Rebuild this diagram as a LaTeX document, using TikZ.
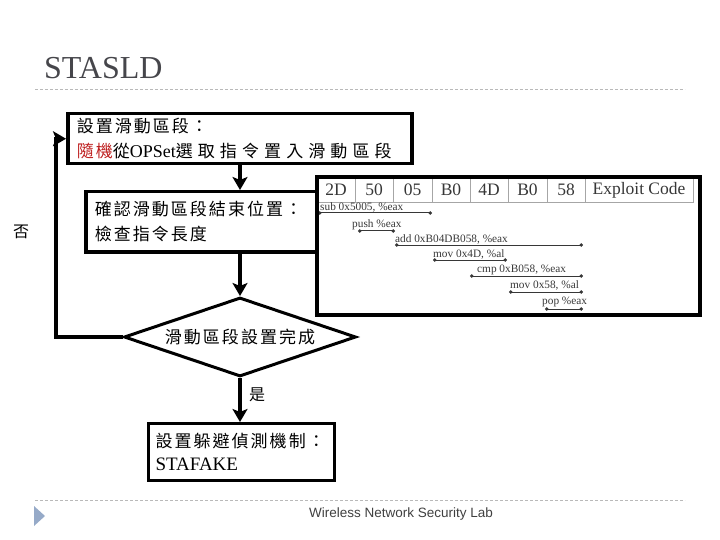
\documentclass[tikz,border=0pt]{standalone}
\usepackage{fontspec}
\setmainfont{Liberation Serif}
\newfontfamily\cjk[LetterSpace=12]{Noto Sans CJK TC}
\newfontfamily\cjkwide[LetterSpace=30]{Noto Sans CJK TC}
\newfontfamily\cjkplain{Noto Sans CJK TC}
\newfontfamily\footsans{Liberation Sans}
\usetikzlibrary{arrows.meta,shapes.geometric}
\definecolor{titlegray}{RGB}{70,70,75}
\definecolor{sepgray}{RGB}{185,185,185}
\definecolor{trigray}{RGB}{150,170,200}
\definecolor{scan}{RGB}{55,55,55}
\definecolor{redtxt}{RGB}{190,30,30}
\begin{document}
\begin{tikzpicture}[x=1pt,y=-1pt,
  conn/.style={line width=3.5pt,-{Stealth[length=13pt,width=15pt,inset=3pt]}},
  flowbox/.style={draw,rectangle,anchor=north west,align=left,inner ysep=0pt,inner xsep=9pt},
  sepline/.style={draw=sepgray,line width=1pt,dash pattern=on 3pt off 2pt},
  hex/.style={text=scan,font=\fontsize{17.5}{17.5}\selectfont,inner sep=0pt},
  tabline/.style={draw=gray!70,line width=0.8pt},
  inslabel/.style={anchor=base west,text=scan,font=\fontsize{11.3}{11.3}\selectfont,inner sep=0pt},
  insline/.style={draw=scan,line width=1pt,{Circle[length=3.5pt]}-{Circle[length=3.5pt]}},
  lbl/.style={font=\cjkplain\fontsize{16}{16}\selectfont,inner sep=0pt}]
\useasboundingbox (0,0) rectangle (720,540);
% header and footer
\node[anchor=base west,inner sep=0pt,text=titlegray,font=\fontsize{32}{32}\selectfont] (title) at (44,79) {STASLD};
\draw[sepline] (35,90) -- (685,90);
\draw[sepline] (35,500) -- (685,500);
\fill[trigray] (34,506) -- (45,516) -- (34,526) -- cycle;
\node[font=\footsans\fontsize{13.5}{14}\selectfont,text=black!75] (foot) at (401,514) {Wireless Network Security Lab};
% flow boxes
\node[flowbox,line width=3.5pt,text width=326pt,minimum height=50pt,font=\cjk\fontsize{17}{25}\selectfont] (b1) at (66,112)
  {設置滑動區段：\\{\color{redtxt}隨機}從{\rmfamily\fontsize{18}{25}\selectfont OPSet}{\cjkwide 選取指令置入滑動區段}};
\node[flowbox,line width=3.5pt,text width=213pt,minimum height=60pt,font=\cjk\fontsize{17}{25}\selectfont] (b2) at (84,190)
  {確認滑動區段結束位置：\\檢查指令長度};
\node[diamond,draw,line width=3pt,minimum width=232pt,minimum height=79pt,inner sep=0pt,aspect=2.9,font=\cjk\fontsize{17}{17}\selectfont] (dia) at (240,337) {滑動區段設置完成};
\node[flowbox,line width=3pt,text width=172pt,inner xsep=7pt,minimum height=57pt,font=\cjk\fontsize{17}{23}\selectfont] (b3) at (147,422)
  {設置躲避偵測機制：\\{\rmfamily\fontsize{19}{23}\selectfont STAFAKE}};
% embedded picture
\draw[tabline] (317,177) rectangle (693,202);
\foreach \x in {355,393,432,470,508,547,585} \draw[tabline] (\x,177) -- (\x,202);
\node[hex] (h1) at (336,190) {2D};
\node[hex] (h2) at (374,190) {50};
\node[hex] (h3) at (412.5,190) {05};
\node[hex] (h4) at (451,190) {B0};
\node[hex] (h5) at (489,190) {4D};
\node[hex] (h6) at (527.5,190) {B0};
\node[hex] (h7) at (566,190) {58};
\node[hex] (h8) at (639,190) {Exploit Code};
\node[inslabel] (i1) at (320,211) {sub 0x5005, \%eax};
\draw[insline] (318,213) -- (432,213);
\node[inslabel] (i2) at (352,227) {push \%eax};
\draw[insline] (358,231) -- (395,231);
\node[inslabel] (i3) at (395,242) {add 0xB04DB058, \%eax};
\draw[insline] (395,245) -- (583,245);
\node[inslabel] (i4) at (433,257) {mov 0x4D, \%al};
\draw[insline] (433,260) -- (507,260);
\node[inslabel] (i5) at (477,272) {cmp 0xB058, \%eax};
\draw[insline] (470,276) -- (583,276);
\node[inslabel] (i6) at (510,288) {mov 0x58, \%al};
\draw[insline] (509,292) -- (583,292);
\node[inslabel] (i7) at (542,304) {pop \%eax};
\draw[insline] (545,309) -- (583,309);
\node[draw,line width=4pt,anchor=north west,minimum width=383pt,minimum height=138pt,inner sep=0pt] (img) at (315,175) {};
% connectors
\coordinate (lp) at (56,240);
\draw[conn] (b1.south -| dia) -- (dia |- b2.north);
\draw[conn] (dia |- b2.south) -- (dia.north);
\draw[conn] (dia.south) -- (dia.south |- b3.north);
\draw[conn] (dia.west) -- (dia.west -| lp) |- (b1.west);
\node[lbl] (yes) at (257,395) {是};
\node[lbl] (no) at (21,232) {否};
\end{tikzpicture}
\end{document}
